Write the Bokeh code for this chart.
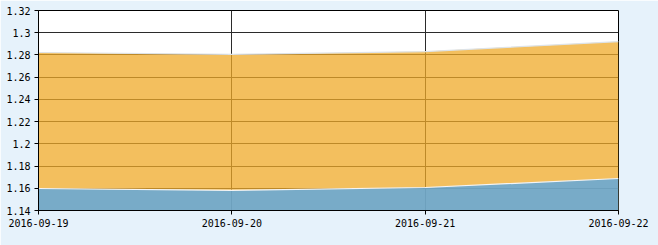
from bokeh.plotting import figure
from bokeh.models import FixedTicker, Range1d
from bokeh.embed import file_html
from bokeh.resources import INLINE

dates = ["2016-09-19", "2016-09-20", "2016-09-21", "2016-09-22"]
series_upper = [1.2822, 1.2805, 1.2830, 1.2920]
series_lower = [1.1598, 1.1582, 1.1607, 1.1688]
y_ticks = [1.14, 1.16, 1.18, 1.20, 1.22, 1.24, 1.26, 1.28, 1.30, 1.32]
y_tick_labels = ["1.14", "1.16", "1.18", "1.2", "1.22", "1.24", "1.26", "1.28", "1.3", "1.32"]

x = list(range(len(dates)))
base = y_ticks[0]

p = figure(width=658, height=245, output_backend="svg", toolbar_location=None,
           x_range=Range1d(0, len(dates) - 1), y_range=Range1d(y_ticks[0], y_ticks[-1]),
           min_border_left=38, min_border_right=40, min_border_top=10, min_border_bottom=35)
p.frame_width = 580
p.frame_height = 200

p.background_fill_color = "white"
p.border_fill_color = "#e6f2fb"
p.outline_line_color = "black"
p.outline_line_width = 1

p.varea(x=x, y1=[base] * len(x), y2=series_upper, fill_color="#efaa28", fill_alpha=0.75)
p.line(x=x, y=series_upper, line_color="#dde3e8", line_width=1.2)
p.varea(x=x, y1=[base] * len(x), y2=series_lower, fill_color="#59a6e2", fill_alpha=0.8)
p.line(x=x, y=series_lower, line_color="#f4f4f4", line_width=1.2)

p.xaxis.ticker = FixedTicker(ticks=x)
p.xaxis.major_label_overrides = {i: d for i, d in zip(x, dates)}
p.yaxis.ticker = FixedTicker(ticks=y_ticks)
p.yaxis.major_label_overrides = {t: l for t, l in zip(y_ticks, y_tick_labels)}

for ax in (p.xaxis, p.yaxis):
    ax.axis_line_color = "black"
    ax.major_tick_line_color = "black"
    ax.major_tick_out = 4
    ax.major_tick_in = 0
    ax.minor_tick_line_color = None
    ax.major_label_text_font = "DejaVu Sans Mono"
    ax.major_label_text_font_size = "10px"
    ax.major_label_text_color = "black"
    ax.major_label_standoff = 4

p.xgrid.grid_line_color = "#2b2b2b"
p.ygrid.grid_line_color = "#2b2b2b"
p.xgrid.grid_line_width = 1
p.ygrid.grid_line_width = 1

open("out.html", "w").write(file_html(p, INLINE))
